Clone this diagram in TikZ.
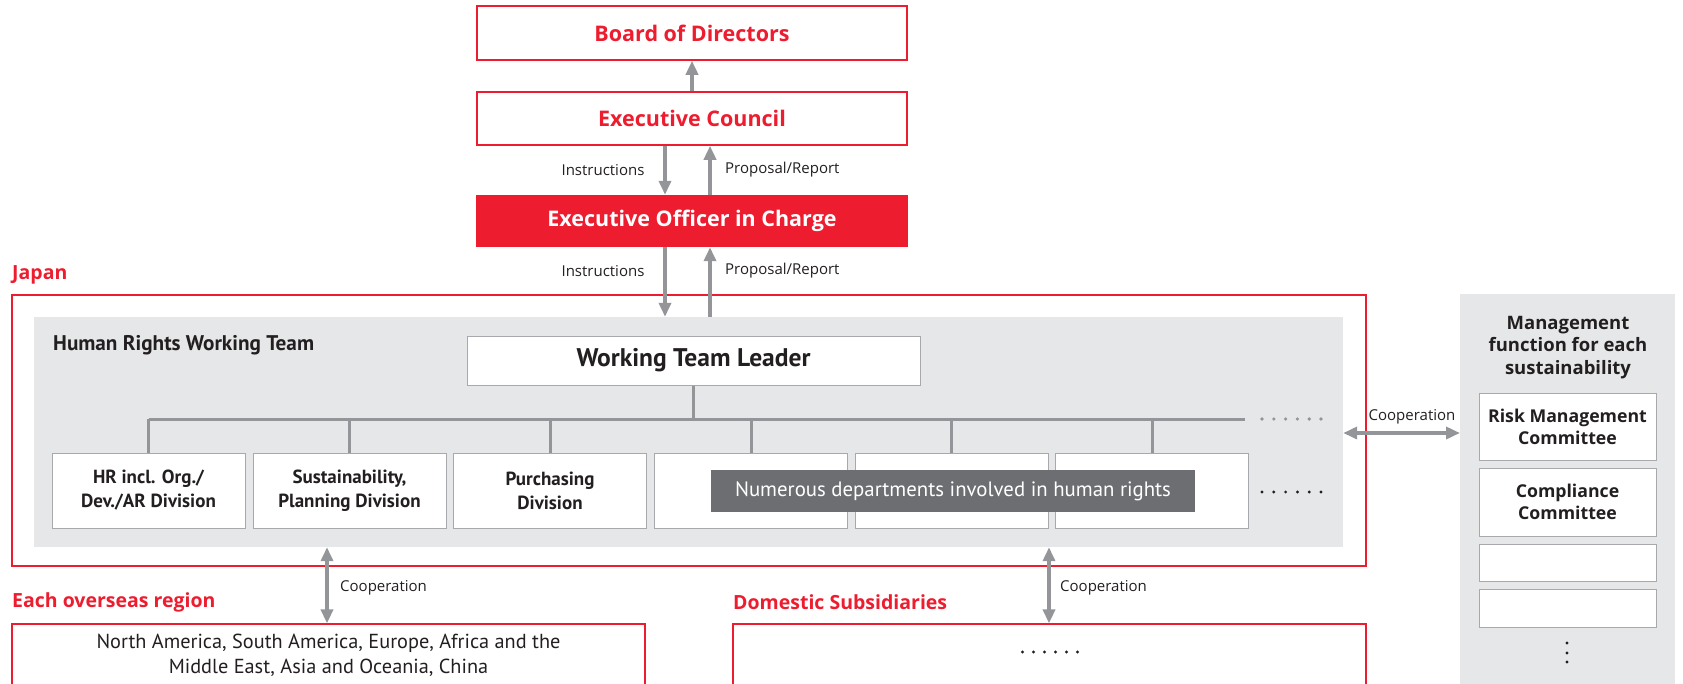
\documentclass[tikz,border=0pt]{standalone}
\usepackage{fontspec}
\setmainfont{Open Sans}
\newfontfamily\condf{PT Sans}
\usetikzlibrary{arrows.meta,calc}
\definecolor{ccred}{RGB}{237,28,46}
\definecolor{panelgray}{RGB}{230,231,232}
\definecolor{arrgray}{RGB}{147,149,152}
\definecolor{bordgray}{RGB}{167,169,172}
\definecolor{darklab}{RGB}{109,110,113}
\definecolor{txt}{RGB}{35,31,32}
\tikzset{
  redbox/.style={draw=ccred, line width=1.5pt, fill=white, inner sep=0pt, text=ccred, font=\fontsize{21.5}{26}\selectfont\bfseries},
  redfill/.style={fill=ccred, inner sep=0pt, text=white, font=\fontsize{21.5}{26}\selectfont\bfseries},
  deptbox/.style={draw=bordgray, line width=1pt, fill=white, inner sep=0pt, text=txt, align=center, minimum width=193pt, minimum height=75pt, font=\condf\fontsize{19}{24}\selectfont\bfseries},
  combox/.style={draw=bordgray, line width=1pt, fill=white, inner sep=0pt, text=txt, align=center, minimum width=177pt, font=\fontsize{17.7}{22}\selectfont\bfseries},
  arr/.style={draw=arrgray, line width=3.5pt, -{Triangle[width=12pt,length=14pt]}},
  darr/.style={draw=arrgray, line width=3.5pt, {Triangle[width=12pt,length=14pt]}-{Triangle[width=12pt,length=14pt]}},
  bus/.style={draw=arrgray, line width=3pt},
  small/.style={text=txt, inner sep=0pt, font=\fontsize{15}{18}\selectfont},
  regtitle/.style={text=ccred, inner sep=0pt, anchor=west, font=\fontsize{19.5}{23}\selectfont\bfseries},
}
\begin{document}
\begin{tikzpicture}[x=1pt,y=-1pt]
\useasboundingbox (0,0) rectangle (1683,683);
% top
\node[redbox, minimum width=430pt, minimum height=54pt] (bod) at (692,33) {Board of Directors};
\node[redbox, minimum width=430pt, minimum height=53pt] (ec) at (692,118.5) {Executive Council};
\node[redfill, minimum width=432pt, minimum height=52pt] (eo) at (692,221) {Executive Officer in Charge};
\coordinate (xc) at (692,0);
\coordinate (xl) at (665,0);
\coordinate (xr) at (710,0);
\draw[arr] (ec.north -| xc) -- (bod.south -| xc);
\draw[arr] (ec.south -| xl) -- (eo.north -| xl);
\draw[arr] (eo.north -| xr) -- (ec.south -| xr);
\node[small] (ins1) at (603,170) {Instructions};
\node[small, anchor=west] (pr1) at (725,170) {Proposal/Report};
% Japan
\node[regtitle] (jt) at (12,275) {Japan};
\node[draw=ccred, line width=1.2pt, minimum width=1354pt, minimum height=271pt, inner sep=0pt] (japan) at (689,430.5) {};
\node[fill=panelgray, minimum width=1309pt, minimum height=230pt, inner sep=0pt] (panel) at (688.5,432) {};
\draw[arr] (eo.south -| xl) -- (panel.north -| xl);
\draw[arr] (panel.north -| xr) -- (eo.south -| xr);
\node[small] (ins2) at (603,271) {Instructions};
\node[small, anchor=west] (pr2) at (725,271) {Proposal/Report};
\node[text=txt, anchor=west, inner sep=0pt, font=\condf\fontsize{21.2}{24}\selectfont\bfseries] (hrwt) at (53,345) {Human Rights Working Team};
\node[draw=bordgray, line width=1pt, fill=white, minimum width=453pt, minimum height=49pt, inner sep=0pt, text=txt, font=\condf\fontsize{25.5}{28}\selectfont\bfseries] (wtl) at (693.5,360.5) {Working Team Leader};
% departments
\node[deptbox] (d1) at (148.5,490.5) {HR incl. Org./\\Dev./AR Division};
\node[deptbox] (d2) at (349.5,490.5) {Sustainability,\\Planning Division};
\node[deptbox] (d3) at (550,490.5) {Purchasing\\Division};
\node[deptbox] (d4) at (751,490.5) {};
\node[deptbox] (d5) at (951.5,490.5) {};
\node[deptbox] (d6) at (1152,490.5) {};
\coordinate (busy) at (0,419);
\coordinate (busend) at (1245,419);
\draw[bus] (d1.north |- busy) -- (busend);
\draw[bus] (wtl.south) -- (wtl.south |- busy);
\foreach \d in {d1,d2,d3,d4,d5,d6} {\draw[bus] (\d.north |- busy) -- (\d.north);}
\foreach \i in {0,...,5} {\fill[arrgray] (1262+\i*11.8,419) circle (1.8pt);}
\foreach \i in {0,...,5} {\fill[txt] (1262+\i*11.8,492) circle (1.6pt);}
\node[fill=darklab, minimum width=484pt, minimum height=42pt, inner sep=0pt, text=white, font=\condf\fontsize{20.8}{24}\selectfont] (numerous) at (953,491) {Numerous departments involved in human rights};
% right panel
\node[fill=panelgray, minimum width=215pt, minimum height=410pt, inner sep=0pt, anchor=north west] (mgmt) at (1460,294) {};
\node[text=txt, align=center, inner sep=0pt, font=\fontsize{18.5}{22.5}\selectfont\bfseries] (mgt) at (1568,347.5) {Management\\function for each\\sustainability};
\node[combox, minimum height=67pt] (risk) at (1567.5,426.5) {Risk Management\\Committee};
\node[combox, minimum height=68pt] (comp) at (1567.5,502) {Compliance\\Committee};
\node[combox, minimum height=37pt] (e1) at (1567.5,562.5) {};
\node[combox, minimum height=38pt] (e2) at (1567.5,608) {};
\foreach \y in {643,653,662} {\fill[txt] (1567,\y) circle (1.7pt);}
\coordinate (yc) at (0,433);
\draw[darr] (panel.east |- yc) -- (mgmt.west |- yc);
\node[small] (coop1) at (1412,417) {Cooperation};
% bottom
\node[regtitle] (ovt) at (12,602) {Each overseas region};
\node[regtitle] (dst) at (733,602) {Domestic Subsidiaries};
\node[draw=ccred, line width=1.2pt, minimum width=633pt, minimum height=63pt, inner sep=0pt, text=txt, align=center, font=\condf\fontsize{20.3}{25}\selectfont] (ovs) at (328.5,655.5) {North America, South America, Europe, Africa and the\\Middle East, Asia and Oceania, China};
\node[draw=ccred, line width=1.2pt, minimum width=633pt, minimum height=63pt, inner sep=0pt] (dom) at (1049.5,655.5) {};
\foreach \i in {0,...,5} {\fill[txt] (1022.5+\i*11,652) circle (1.6pt);}
\coordinate (xa) at (327,0);
\coordinate (xb) at (1049,0);
\draw[darr] (panel.south -| xa) -- (ovs.north -| xa);
\draw[darr] (panel.south -| xb) -- (dom.north -| xb);
\node[small, anchor=west] (coop2) at (340,588) {Cooperation};
\node[small, anchor=west] (coop3) at (1060,588) {Cooperation};
\end{tikzpicture}
\end{document}
